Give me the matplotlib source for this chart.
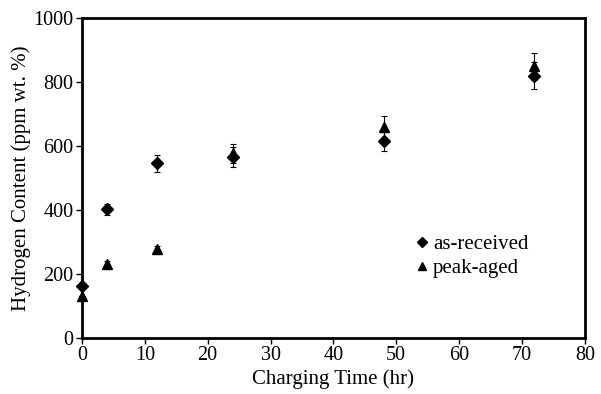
import numpy as np
import matplotlib.pyplot as plt
from matplotlib.lines import Line2D

plt.rcParams['font.family'] = ['Liberation Serif', 'DejaVu Serif']

# charging time (hr)
t = [0, 4, 12, 24, 48, 72]

# as-received hydrogen content and error
as_rec = [162, 402, 546, 566, 615, 820]
as_rec_err = [0, 18, 27, 30, 30, 42]

# peak-aged hydrogen content and error
peak = [132, 230, 277, 578, 660, 850]
peak_err = [0, 10, 12, 30, 35, 42]


def main() -> None:
  fig = plt.figure(figsize=(6.01, 3.94), dpi=100)
  ax = fig.add_axes([0.1364, 0.142, 0.8366, 0.812])

  #* series
  ax.errorbar(t, as_rec, yerr=as_rec_err, fmt='D', color='black', ms=6.5,
              ecolor='black', elinewidth=0.8, capsize=2.5, capthick=0.8,
              clip_on=False, zorder=3)
  ax.errorbar(t, peak, yerr=peak_err, fmt='^', color='black', ms=7,
              ecolor='black', elinewidth=0.8, capsize=2.5, capthick=0.8,
              clip_on=False, zorder=3)

  #* axes
  ax.set_xlim(0, 80)
  ax.set_ylim(0, 1000)
  ax.set_xticks(np.arange(0, 81, 10))
  ax.set_yticks(np.arange(0, 1001, 200))
  for s in ax.spines.values():
    s.set_linewidth(2)
  ax.tick_params(direction='out', length=4, width=1, labelsize=14.5, pad=2)

  ax.set_xlabel('Charging Time (hr)', fontsize=15, labelpad=3)
  ax.set_ylabel('Hydrogen Content (ppm wt. %)', fontsize=15, labelpad=2)

  #* legend
  handles = [Line2D([], [], marker='D', ls='none', color='black', ms=5),
             Line2D([], [], marker='^', ls='none', color='black', ms=6)]
  ax.legend(handles, ['as-received', 'peak-aged'], loc='center left',
            bbox_to_anchor=(0.644, 0.256), frameon=False, fontsize=15,
            handlelength=0.6, handletextpad=0.2, labelspacing=0.2, borderpad=0)

  fig.savefig('out.png', dpi=100)


if __name__ == "__main__":
  main()
